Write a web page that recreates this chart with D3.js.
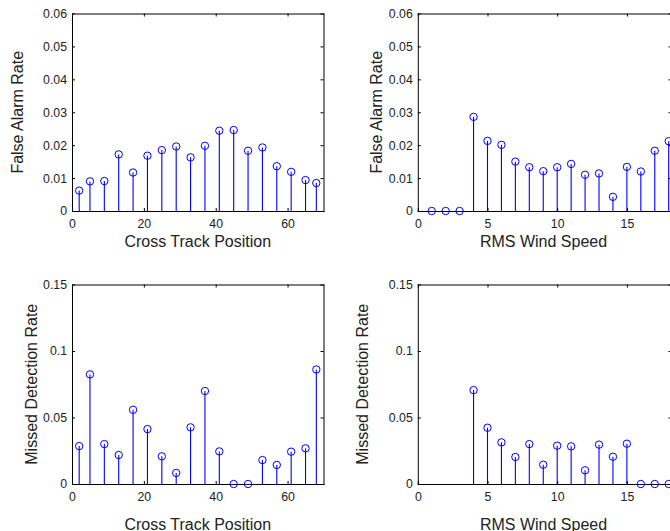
<!DOCTYPE html>
<html>
<head>
<meta charset="utf-8">
<script src="https://cdn.jsdelivr.net/npm/d3@7"></script>
<style>
  html, body { margin: 0; padding: 0; background: #fff; overflow: hidden; }
  svg { display: block; font-family: "Liberation Sans", Arial, sans-serif; }
</style>
</head>
<body>
<script>
// data
const crossTrack = [2, 5, 9, 13, 17, 21, 25, 29, 33, 37, 41, 45, 49, 53, 57, 61, 65, 68];
const faCross = [0.0062, 0.0090, 0.0091, 0.0172, 0.0117, 0.0168, 0.0185, 0.0196, 0.0163,
                 0.0198, 0.0244, 0.0246, 0.0183, 0.0193, 0.0136, 0.0119, 0.0094, 0.0085];
const mdCross = [0.0285, 0.0824, 0.0300, 0.0218, 0.0558, 0.0413, 0.0208, 0.0083, 0.0426,
                 0.0699, 0.0245, 0, 0, 0.0180, 0.0143, 0.0243, 0.0268, 0.0861];

const windSpeed = [1, 2, 3, 4, 5, 6, 7, 8, 9, 10, 11, 12, 13, 14, 15, 16, 17, 18];
const faWind = [0, 0, 0, 0.0286, 0.0213, 0.0201, 0.0150, 0.0133, 0.0121,
                0.0133, 0.0143, 0.0110, 0.0114, 0.0043, 0.0134, 0.0120, 0.0183, 0.0212];
const mdWind = [null, null, null, 0.0706, 0.0423, 0.0313, 0.0203, 0.0300, 0.0145,
                0.0288, 0.0283, 0.0103, 0.0296, 0.0205, 0.0303, 0, 0, 0];

const crossTicks = [0, 20, 40, 60];
const windTicks = [0, 5, 10, 15, 20];
const faTicks = [0, 0.01, 0.02, 0.03, 0.04, 0.05, 0.06];
const mdTicks = [0, 0.05, 0.1, 0.15];

const width = 670, height = 531;
const svg = d3.select('body').append('svg')
    .attr('width', width)
    .attr('height', height);

const stemColor = '#0000ff';

const panels = [
  { x: crossTrack, y: faCross, xDomain: [0, 70], yDomain: [0, 0.06], xTicks: crossTicks, yTicks: faTicks,
    xLabel: 'Cross Track Position', yLabel: 'False Alarm Rate',
    left: 72, right: 323.5, top: 13.5, bottom: 211, xLabOff: 35.7, yLabOff: 48.7 },
  { x: windSpeed, y: faWind, xDomain: [0, 18.2], yDomain: [0, 0.06], xTicks: windTicks, yTicks: faTicks,
    xLabel: 'RMS Wind Speed', yLabel: 'False Alarm Rate',
    left: 417.8, right: 671.5, top: 13.5, bottom: 211, xLabOff: 35.7, yLabOff: 36.1 },
  { x: crossTrack, y: mdCross, xDomain: [0, 70], yDomain: [0, 0.15], xTicks: crossTicks, yTicks: mdTicks,
    xLabel: 'Cross Track Position', yLabel: 'Missed Detection Rate',
    left: 72, right: 323.5, top: 284.5, bottom: 484, xLabOff: 45.5, yLabOff: 35.3 },
  { x: windSpeed, y: mdWind, xDomain: [0, 18.2], yDomain: [0, 0.15], xTicks: windTicks, yTicks: mdTicks,
    xLabel: 'RMS Wind Speed', yLabel: 'Missed Detection Rate',
    left: 417.8, right: 671.5, top: 284.5, bottom: 484, xLabOff: 45.5, yLabOff: 50 }
];

const fmt = v => (v === 0 ? '0' : d3.format('~g')(v));

panels.forEach(p => {
  const xs = d3.scaleLinear().domain(p.xDomain).range([p.left, p.right]);
  const ys = d3.scaleLinear().domain(p.yDomain).range([p.bottom, p.top]);
  const g = svg.append('g');
  const xt = p.xTicks.filter(t => t <= p.xDomain[1]);

  // stems
  const pts = p.x.map((v, i) => ({ x: v, y: p.y[i] })).filter(d => d.y !== null);
  g.selectAll('line.stem')
    .data(pts.filter(d => d.y > 0))
    .enter()
    .append('line')
    .attr('class', 'stem')
    .attr('x1', d => xs(d.x)).attr('x2', d => xs(d.x))
    .attr('y1', ys(0)).attr('y2', d => ys(d.y))
    .attr('stroke', stemColor)
    .attr('stroke-width', 1.1);

  // axes (ticks point inwards, box on all sides)
  const styleAxis = sel => {
    sel.select('.domain').attr('stroke', '#000').attr('stroke-width', 1);
    sel.selectAll('.tick line').attr('stroke', '#000');
    sel.selectAll('.tick text').attr('fill', '#222').style('font-size', '12.3px');
  };
  g.append('g')
    .attr('transform', `translate(0,${p.bottom})`)
    .call(d3.axisBottom(xs).tickValues(xt).tickFormat(fmt).tickSizeInner(-3).tickSizeOuter(0).tickPadding(8))
    .call(styleAxis);
  g.append('g')
    .attr('transform', `translate(0,${p.top})`)
    .call(d3.axisTop(xs).tickValues(xt).tickFormat('').tickSizeInner(-3).tickSizeOuter(0))
    .call(styleAxis);
  g.append('g')
    .attr('transform', `translate(${p.left},0)`)
    .call(d3.axisLeft(ys).tickValues(p.yTicks).tickFormat(fmt).tickSizeInner(-3).tickSizeOuter(0).tickPadding(5))
    .call(styleAxis);
  g.append('g')
    .attr('transform', `translate(${p.right},0)`)
    .call(d3.axisRight(ys).tickValues(p.yTicks).tickFormat('').tickSizeInner(-3).tickSizeOuter(0))
    .call(styleAxis);
  g.selectAll('.domain').attr('stroke-linecap', 'square');

  // markers
  g.selectAll('circle.mark')
    .data(pts)
    .enter()
    .append('circle')
    .attr('class', 'mark')
    .attr('cx', d => xs(d.x))
    .attr('cy', d => ys(d.y))
    .attr('r', 3.7)
    .attr('fill', 'none')
    .attr('stroke', stemColor)
    .attr('stroke-width', 1);

  // axis labels
  g.append('text')
    .attr('x', (p.left + Math.min(p.right, (p.left + 251.5))) / 2)
    .attr('y', p.bottom + p.xLabOff)
    .attr('text-anchor', 'middle')
    .style('font-size', '16px')
    .attr('fill', '#222')
    .text(p.xLabel);
  g.append('text')
    .attr('transform', `translate(${p.left - p.yLabOff},${(p.top + p.bottom) / 2}) rotate(-90)`)
    .attr('text-anchor', 'middle')
    .style('font-size', '16px')
    .attr('fill', '#222')
    .text(p.yLabel);
});
</script>
</body>
</html>
